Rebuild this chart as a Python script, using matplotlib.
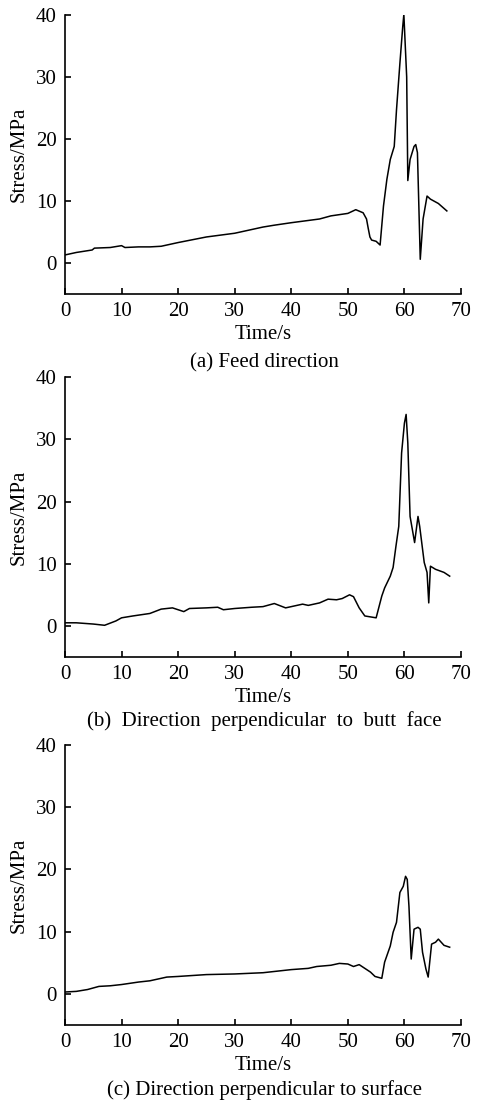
# Stress history in three directions (3 stacked panels)

import matplotlib.pyplot as plt

plt.rcParams['font.family'] = ['Liberation Serif', 'DejaVu Serif']

# Step 1: data (time in s, stress in MPa)
time_a = [0, 2, 4.8, 5.2, 8, 10, 10.6, 13, 15, 17, 20, 25, 30, 35, 37, 40, 45, 47, 50,
          51.4, 52.7, 53.3, 53.6, 53.9, 54.2, 55.0, 55.7, 56.3, 56.9, 57.5, 58.2, 58.6,
          59.2, 59.7, 59.9, 60.4, 60.6, 61.0, 61.7, 62.0, 62.3, 62.8, 63.3, 64.0, 64.6,
          66, 67.5]
stress_a = [1.3, 1.7, 2.1, 2.4, 2.5, 2.8, 2.5, 2.6, 2.6, 2.7, 3.3, 4.2, 4.8, 5.8, 6.1,
            6.5, 7.1, 7.6, 8.0, 8.6, 8.1, 7.1, 5.6, 4.2, 3.7, 3.5, 2.9, 9.2, 13.5, 16.7,
            18.8, 24.7, 32.2, 38.1, 40.1, 30.0, 13.3, 16.7, 18.8, 19.1, 17.8, 0.6, 7.1,
            10.8, 10.3, 9.6, 8.4]

time_b = [0, 2, 5, 7, 9, 10, 12, 15, 17, 19, 20, 21, 22, 25, 27, 28, 30, 33, 35, 37,
          39, 41, 42, 43, 45, 46.5, 48, 49, 50.3, 51, 52, 53, 55, 56, 56.5, 57.5, 58,
          58.5, 59, 59.5, 60, 60.3, 60.6, 61, 61.8, 62.4, 62.7, 63.5, 64, 64.3, 64.6,
          65.5, 67, 68]
stress_b = [0.5, 0.5, 0.3, 0.1, 0.8, 1.3, 1.6, 2.0, 2.7, 2.9, 2.6, 2.3, 2.8, 2.9, 3.0,
            2.6, 2.8, 3.0, 3.1, 3.6, 2.9, 3.3, 3.5, 3.3, 3.7, 4.3, 4.2, 4.4, 5.0, 4.7,
            2.9, 1.6, 1.3, 4.8, 6.1, 8.0, 9.4, 12.8, 16.0, 27.8, 32.6, 34.0, 29.4, 17.6,
            13.4, 17.6, 16.0, 10.2, 8.6, 3.7, 9.6, 9.1, 8.6, 8.0]

time_c = [0, 2, 4, 6, 8, 10, 13, 15, 18, 20, 25, 30, 35, 40, 43, 44.5, 47, 48.5, 50,
          51, 52, 53, 54, 54.8, 56, 56.5, 57.5, 58, 58.6, 59.2, 59.8, 60.2, 60.5, 60.8,
          61.2, 61.7, 62.4, 62.8, 63.2, 63.8, 64.2, 64.8, 65.5, 66, 67, 68]
stress_c = [0.3, 0.4, 0.7, 1.2, 1.3, 1.5, 1.9, 2.1, 2.7, 2.8, 3.1, 3.2, 3.4, 3.9, 4.1,
            4.4, 4.6, 4.9, 4.8, 4.4, 4.7, 4.1, 3.5, 2.8, 2.5, 5.1, 7.7, 9.9, 11.5, 16.3,
            17.3, 18.9, 18.4, 14.1, 5.6, 10.4, 10.7, 10.4, 6.7, 4.0, 2.7, 8.0, 8.3, 8.8,
            7.8, 7.5]

x_ticks = [0, 10, 20, 30, 40, 50, 60, 70]
y_ticks = [0, 10, 20, 30, 40]
captions = ["(a) Feed direction",
            "(b)  Direction  perpendicular  to  butt  face",
            "(c) Direction perpendicular to surface"]

# Step 2: figure and axes positions (fractions of 485x1102 px)
fig = plt.figure(figsize=(4.85, 11.02), dpi=100)
ax_a = fig.add_axes([0.134, 0.7332, 0.8165, 0.2532])
ax_b = fig.add_axes([0.134, 0.4038, 0.8165, 0.2540])
ax_c = fig.add_axes([0.134, 0.0699, 0.8165, 0.2540])
caption_y = [0.6705, 0.3456, 0.0109]

series = [(ax_a, time_a, stress_a), (ax_b, time_b, stress_b), (ax_c, time_c, stress_c)]

# Step 3: draw each panel
for i, (ax, t, s) in enumerate(series):
    ax.plot(t, s, color='black', linewidth=1.1)
    ax.set_xlim(0, 70)
    ax.set_ylim(-5, 40)
    ax.set_xticks(x_ticks)
    ax.set_yticks(y_ticks)
    ax.tick_params(direction='in', length=4.5, width=1.2, labelsize=15, pad=6)
    ax.spines['top'].set_visible(False)
    ax.spines['right'].set_visible(False)
    ax.spines['left'].set_linewidth(1.2)
    ax.spines['bottom'].set_linewidth(1.2)
    ax.set_xlabel("Time/s", fontsize=15, labelpad=2.5)
    ax.set_ylabel("Stress/MPa", fontsize=15, labelpad=5)
    fig.text(0.545, caption_y[i], captions[i], fontsize=15, ha='center', va='center')

plt.savefig("out.png", dpi=100)
